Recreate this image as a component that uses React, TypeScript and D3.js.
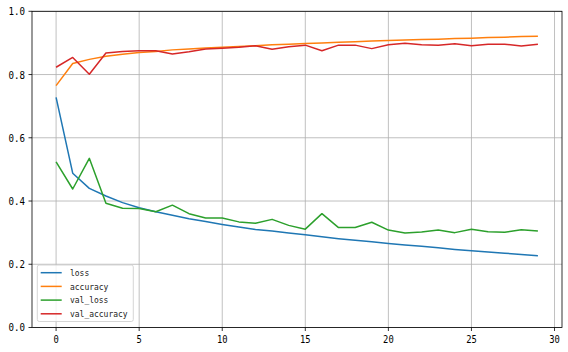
import React, { useEffect, useRef } from 'react';
import * as d3 from 'd3';

const epochs = d3.range(30);

const loss = [0.728, 0.488, 0.440, 0.416, 0.395, 0.379, 0.366, 0.355, 0.344, 0.335,
  0.326, 0.318, 0.310, 0.305, 0.299, 0.293, 0.287, 0.281, 0.276, 0.271,
  0.266, 0.261, 0.257, 0.252, 0.247, 0.243, 0.239, 0.235, 0.231, 0.227];
const accuracy = [0.765, 0.835, 0.848, 0.858, 0.864, 0.870, 0.873, 0.878, 0.881, 0.884,
  0.886, 0.889, 0.891, 0.894, 0.896, 0.898, 0.900, 0.902, 0.904, 0.906,
  0.908, 0.909, 0.911, 0.912, 0.914, 0.915, 0.917, 0.918, 0.920, 0.921];
const valLoss = [0.524, 0.438, 0.535, 0.393, 0.377, 0.376, 0.366, 0.387, 0.360, 0.346,
  0.346, 0.334, 0.330, 0.342, 0.323, 0.311, 0.360, 0.316, 0.316, 0.333,
  0.308, 0.299, 0.302, 0.308, 0.300, 0.311, 0.303, 0.301, 0.309, 0.305];
const valAccuracy = [0.823, 0.854, 0.801, 0.868, 0.873, 0.875, 0.875, 0.865, 0.872, 0.881,
  0.883, 0.886, 0.891, 0.880, 0.888, 0.893, 0.875, 0.893, 0.893, 0.882,
  0.894, 0.899, 0.894, 0.893, 0.897, 0.891, 0.896, 0.896, 0.890, 0.896];

const seriesNames = ['loss', 'accuracy', 'val_loss', 'val_accuracy'];
const seriesColors = ['#1f77b4', '#ff7f0e', '#2ca02c', '#d62728'];
const xTicks = [0, 5, 10, 15, 20, 25, 30];
const yTicks = [0, 0.2, 0.4, 0.6, 0.8, 1.0];

const FONT = '"DejaVu Sans Mono", "Liberation Mono", monospace';

const App: React.FC = () => {
  const ref = useRef<SVGSVGElement | null>(null);

  useEffect(() => {
    const svg = d3.select(ref.current);
    svg.selectAll('*').remove();

    const left = 32, right = 562, top = 11.3, bottom = 327.5;

    const x = d3.scaleLinear().domain([-1.45, 30.45]).range([left, right]);
    const y = d3.scaleLinear().domain([0, 1]).range([bottom, top]);

    svg.append('rect').attr('width', 568).attr('height', 352).attr('fill', 'white');

    // grid
    const grid = svg.append('g');
    xTicks.forEach(t => {
      grid.append('line')
        .attr('x1', x(t)).attr('x2', x(t)).attr('y1', top).attr('y2', bottom)
        .attr('stroke', '#b0b0b0').attr('stroke-width', 0.8);
    });
    yTicks.forEach(t => {
      grid.append('line')
        .attr('x1', left).attr('x2', right).attr('y1', y(t)).attr('y2', y(t))
        .attr('stroke', '#b0b0b0').attr('stroke-width', 0.8);
    });

    // series
    const allSeries = [loss, accuracy, valLoss, valAccuracy];
    const line = d3.line<number>()
      .x((_, i) => x(epochs[i]))
      .y(d => y(d));
    allSeries.forEach((s, i) => {
      svg.append('path')
        .datum(s)
        .attr('d', line)
        .attr('fill', 'none')
        .attr('stroke', seriesColors[i])
        .attr('stroke-width', 1.5)
        .attr('stroke-linejoin', 'round');
    });

    // spines
    svg.append('rect')
      .attr('x', left).attr('y', top)
      .attr('width', right - left).attr('height', bottom - top)
      .attr('fill', 'none').attr('stroke', '#000').attr('stroke-width', 0.8);

    // ticks
    xTicks.forEach(t => {
      svg.append('line')
        .attr('x1', x(t)).attr('x2', x(t)).attr('y1', bottom).attr('y2', bottom + 3.5)
        .attr('stroke', '#000').attr('stroke-width', 0.8);
      const lbl = String(t);
      svg.append('text')
        .attr('x', x(t)).attr('y', bottom + 15.5)
        .attr('text-anchor', 'middle')
        .attr('font-family', FONT).attr('font-size', 11)
        .attr('textLength', lbl.length * 5.3).attr('lengthAdjust', 'spacingAndGlyphs')
        .attr('fill', '#000')
        .text(lbl);
    });
    yTicks.forEach(t => {
      svg.append('line')
        .attr('x1', left - 3.5).attr('x2', left).attr('y1', y(t)).attr('y2', y(t))
        .attr('stroke', '#000').attr('stroke-width', 0.8);
      const lbl = t.toFixed(1);
      svg.append('text')
        .attr('x', left - 7).attr('y', y(t)).attr('dy', '0.36em')
        .attr('text-anchor', 'end')
        .attr('font-family', FONT).attr('font-size', 11)
        .attr('textLength', lbl.length * 5.5).attr('lengthAdjust', 'spacingAndGlyphs')
        .attr('fill', '#000')
        .text(lbl);
    });

    // legend
    const lg = svg.append('g').attr('transform', 'translate(37.3,265)');
    lg.append('rect')
      .attr('width', 96).attr('height', 56.5).attr('rx', 2)
      .attr('fill', 'white').attr('fill-opacity', 0.8)
      .attr('stroke', '#cccccc').attr('stroke-width', 0.8);
    seriesNames.forEach((name, i) => {
      const yy = 7.7 + i * 13.7;
      lg.append('line')
        .attr('x1', 3.4).attr('x2', 24.4).attr('y1', yy).attr('y2', yy)
        .attr('stroke', seriesColors[i]).attr('stroke-width', 1.5);
      lg.append('text')
        .attr('x', 32.7).attr('y', yy).attr('dy', '0.35em')
        .attr('font-family', FONT).attr('font-size', 9.5)
        .attr('textLength', name.length * 4.8).attr('lengthAdjust', 'spacingAndGlyphs')
        .attr('fill', '#222')
        .text(name);
    });
  }, []);

  return (
    <svg ref={ref} width={568} height={352}
      style={{ position: 'absolute', left: 0, top: 0, display: 'block' }} />
  );
};

export default App;
